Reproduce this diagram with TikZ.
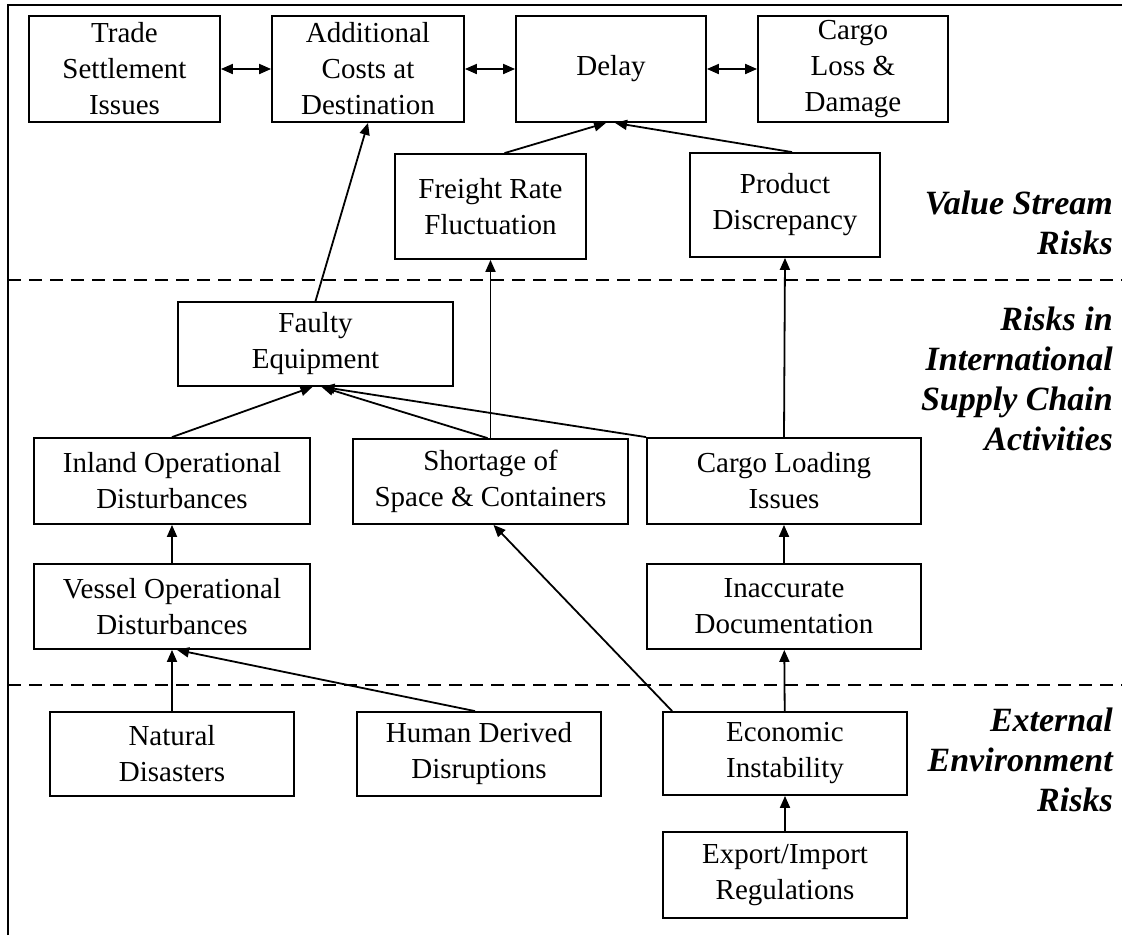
\documentclass[tikz,border=0pt]{standalone}
\usepackage{fontspec}
\setmainfont{Liberation Serif}
\usetikzlibrary{arrows.meta}

\tikzset{
  riskbox/.style={draw, line width=1.8pt, inner sep=0pt, align=center,
    font=\fontsize{29}{36}\selectfont},
  layerlabel/.style={anchor=east, align=right, inner sep=0pt,
    font=\fontsize{34}{40}\selectfont\bfseries\itshape},
  link/.style={line width=1.8pt, -{Triangle[length=12pt,width=10pt]}},
  both/.style={line width=1.8pt, {Triangle[length=12pt,width=10pt]}-{Triangle[length=12pt,width=10pt]}},
  layerline/.style={line width=2.8pt, dash pattern=on 13pt off 8pt}
}

\begin{document}
\begin{tikzpicture}[x=1pt, y=-1pt]

\useasboundingbox (0,0) rectangle (1122,935);

\def\rightx{1113}  % right edge of the layer labels

% Frame and layer separators
\draw[line width=2pt] (8,935) -- (8,5) -- (1122,5);
\draw[layerline] (8,280) -- (1122,280);
\draw[layerline] (8,685) -- (1122,685);

% --- Value stream risks ---
\node[riskbox, minimum width=191, minimum height=106] (trade) at (124.5,69) {Trade\\Settlement\\Issues};
\node[riskbox, minimum width=192, minimum height=106] (addcost) at (368,69) {Additional\\Costs at\\Destination};
\node[riskbox, minimum width=190, minimum height=106] (delay) at (611,69) {Delay};
\node[riskbox, minimum width=190, minimum height=106] (cargoloss) at (853,69) {Cargo\\Loss \&\\Damage};
\node[riskbox, minimum width=191, minimum height=105] (freight) at (490.5,206.5) {Freight Rate\\Fluctuation};
\node[riskbox, minimum width=190, minimum height=104] (product) at (785,205) {Product\\Discrepancy};

% --- Risks in supply chain activities ---
\node[riskbox, minimum width=275, minimum height=84] (faulty) at (315.5,344) {Faulty\\Equipment};
\node[riskbox, minimum width=276, minimum height=86] (inland) at (172,481) {Inland Operational\\Disturbances};
\node[riskbox, minimum width=275, minimum height=85] (shortage) at (490.5,481.5) {Shortage of\\Space \& Containers};
\node[riskbox, minimum width=274, minimum height=86] (cargoload) at (784,481) {Cargo Loading\\Issues};
\node[riskbox, minimum width=276, minimum height=85] (vessel) at (172,606.5) {Vessel Operational\\Disturbances};
\node[riskbox, minimum width=274, minimum height=85] (inaccurate) at (784,606.5) {Inaccurate\\Documentation};

% --- External environment risks ---
\node[riskbox, minimum width=244, minimum height=84] (natural) at (172,754) {Natural\\Disasters};
\node[riskbox, minimum width=244, minimum height=84] (human) at (479,754) {Human Derived\\Disruptions};
\node[riskbox, minimum width=244, minimum height=83] (economic) at (785,753.5) {Economic\\Instability};
\node[riskbox, minimum width=244, minimum height=86] (export) at (785,875) {Export/Import\\Regulations};

% Layer labels
\node[layerlabel] (valuelbl) at (\rightx,223) {Value Stream\\Risks};
\node[layerlabel] (chainlbl) at (\rightx,379) {Risks in\\International\\Supply Chain\\Activities};
\node[layerlabel] (extlbl) at (\rightx,760) {External\\Environment\\Risks};

% Links in the top row
\draw[both] (trade) -- (addcost);
\draw[both] (addcost) -- (delay);
\draw[both] (delay) -- (cargoloss);

% Links up to the value stream
\draw[link] (faulty.north) -- (addcost.south);
\draw[link] ([xshift=14]freight.north) -- ([xshift=-5]delay.south);
\draw[link] ([xshift=7]product.north) -- ([xshift=4]delay.south);
\draw[link] (shortage.north) -- (freight.south);
\draw[link] (cargoload.north) -- (product.south);

% Links inside the activities layer
\draw[link] (inland.north) -- ([xshift=-3]faulty.south);
\draw[link] ([xshift=-3]shortage.north) -- ([xshift=6]faulty.south);
\draw[link] (cargoload.north west) -- ([xshift=7]faulty.south);
\draw[link] (vessel) -- (inland);
\draw[link] (inaccurate) -- (cargoload);

% Links from the external layer
\draw[link] (natural.north) -- (vessel.south);
\draw[link] ([xshift=-4]human.north) -- ([xshift=5]vessel.south);
\draw[link] ([xshift=10]economic.north west) -- ([xshift=3]shortage.south);
\draw[link] (economic) -- (inaccurate);
\draw[link] (export) -- (economic);

\end{tikzpicture}
\end{document}
